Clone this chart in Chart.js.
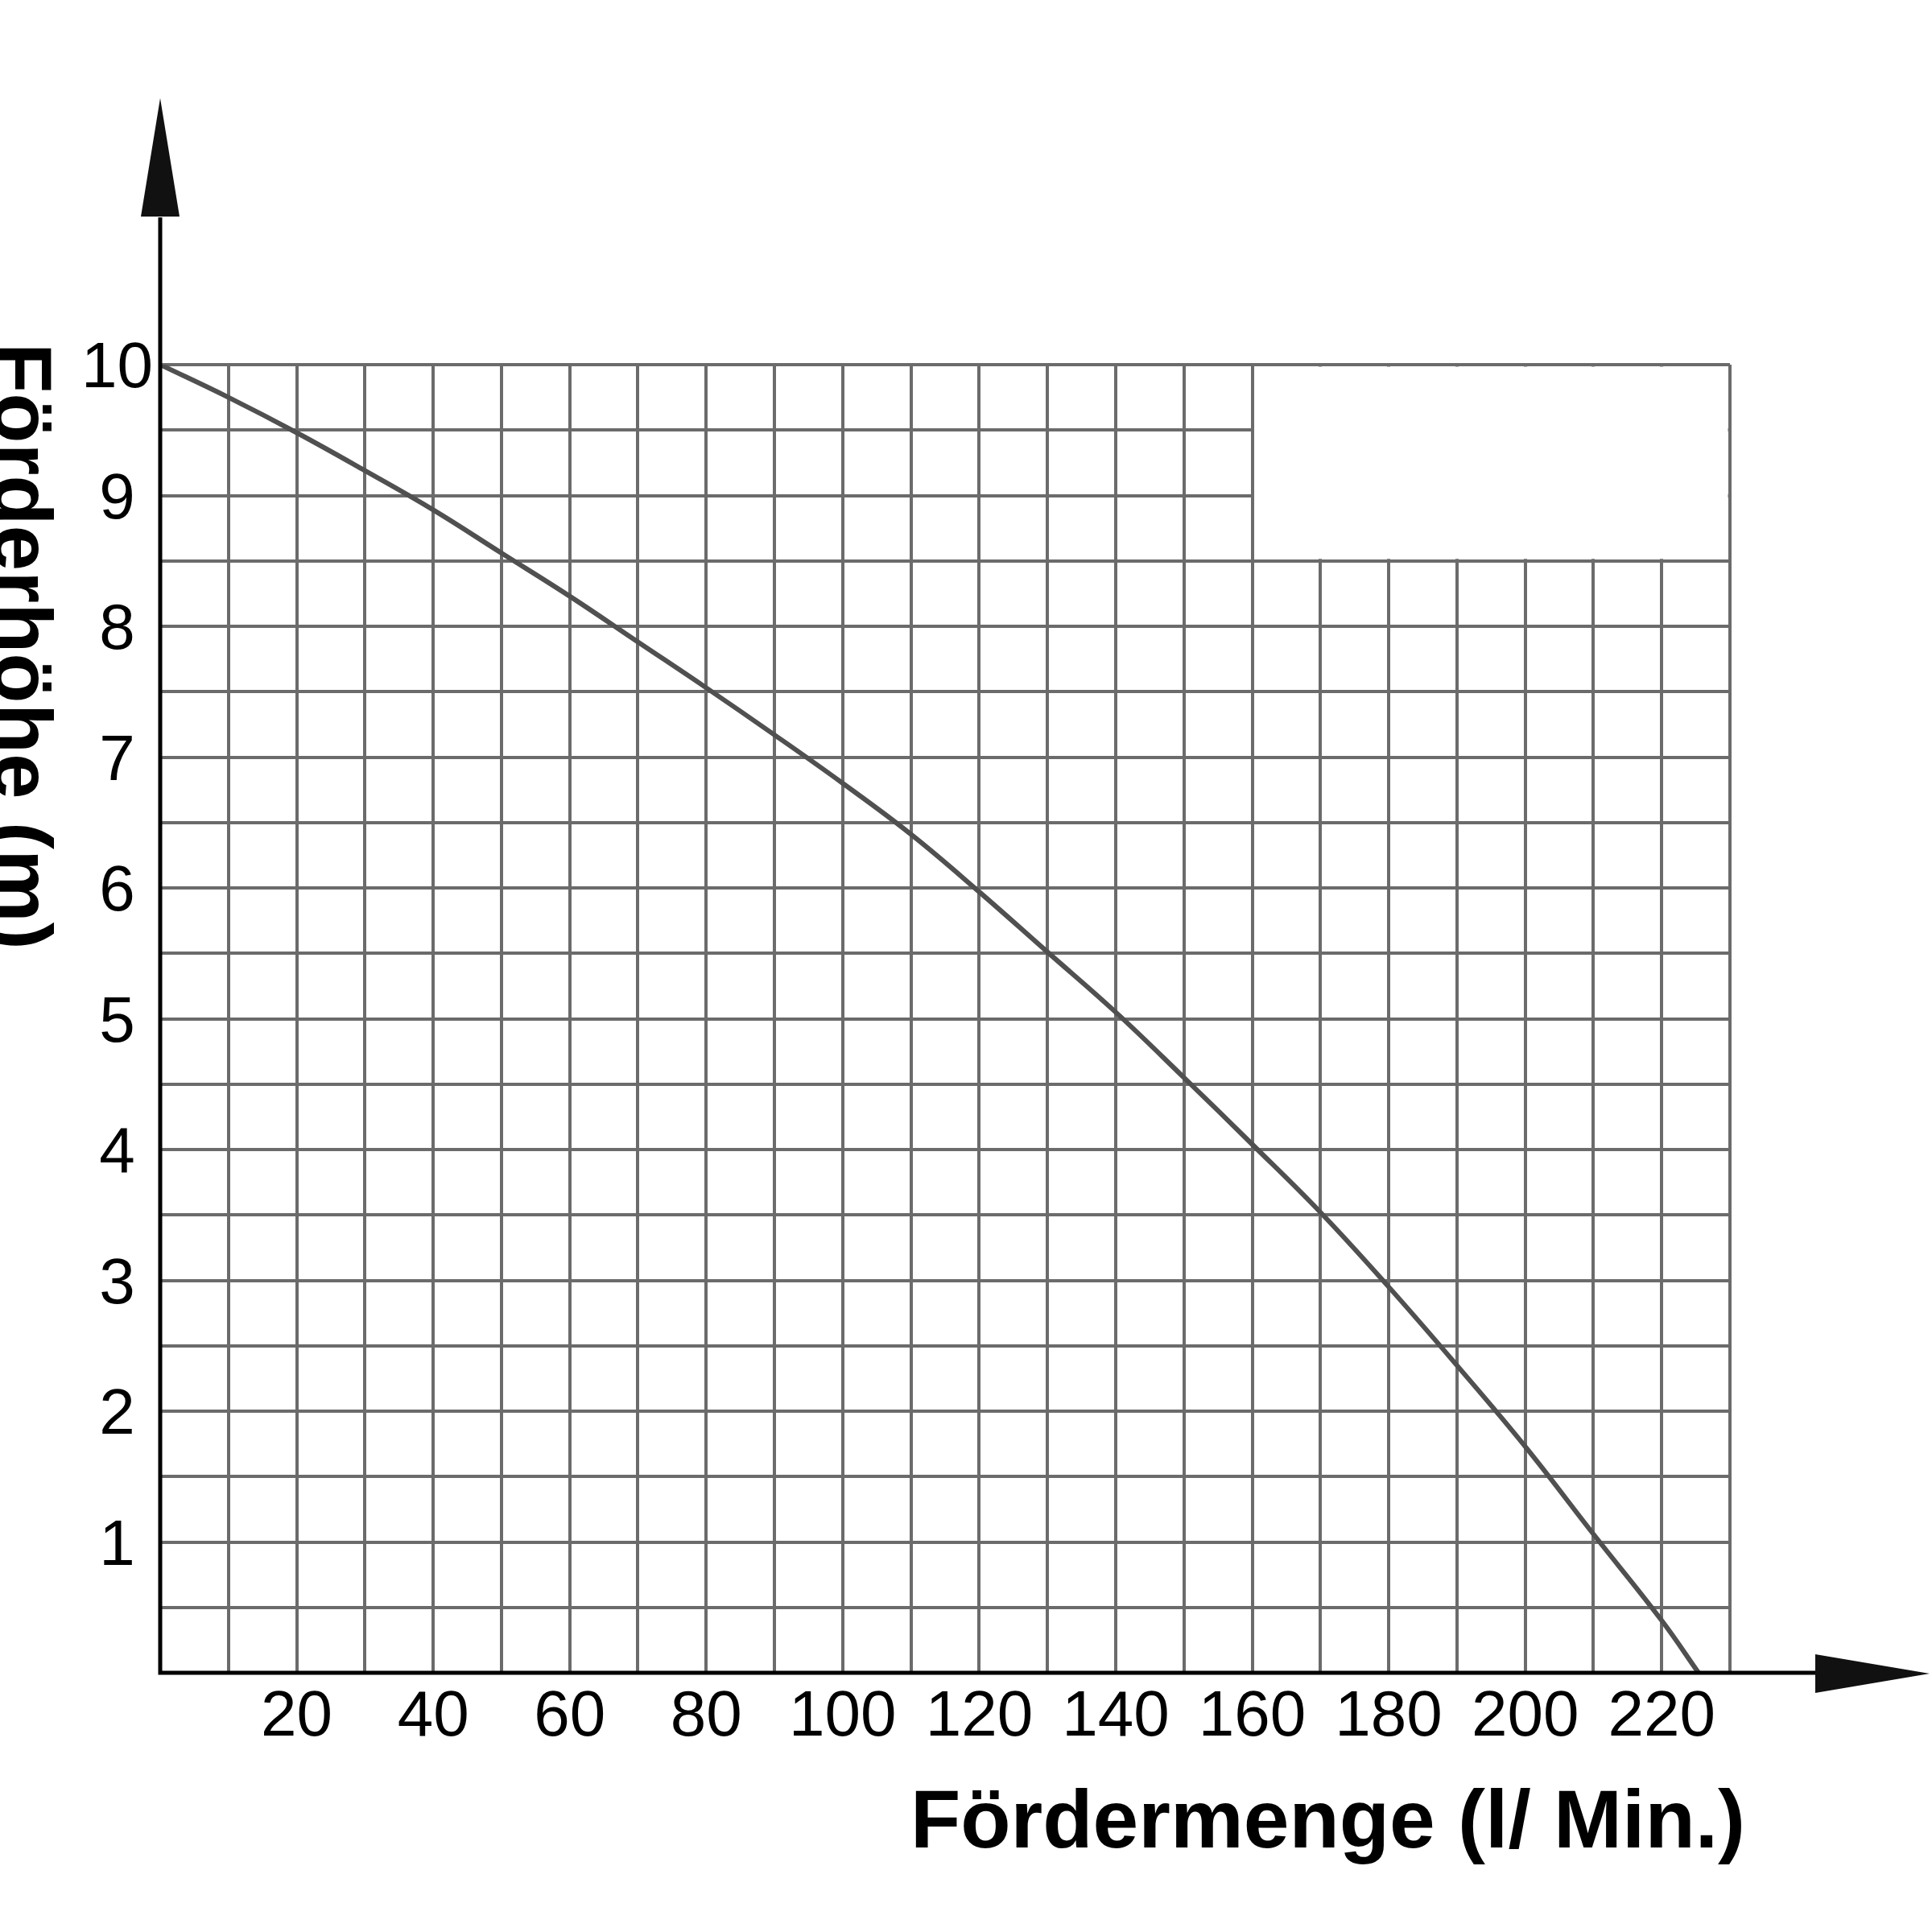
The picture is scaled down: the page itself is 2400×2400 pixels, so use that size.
<!DOCTYPE html>
<html>
<head>
<meta charset="utf-8">
<script src="https://cdn.jsdelivr.net/npm/chart.js@4"></script>
<style>
  html, body { margin: 0; padding: 0; background: #fff; }
  canvas { display: block; }
</style>
</head>
<body>
<canvas id="myChart" width="2400" height="2400"></canvas>
<script>
// flow rate (l/min) and delivery head (m)
var flowX = [0, 10, 20, 30, 40, 50, 60, 70, 80, 90, 100, 110, 120, 130, 140, 150, 160, 170, 180, 190, 200, 210, 220, 225.4];
var headY = [10, 9.75, 9.48, 9.19, 8.89, 8.56, 8.23, 7.88, 7.53, 7.17, 6.80, 6.41, 5.97, 5.51, 5.05, 4.55, 4.04, 3.52, 2.95, 2.35, 1.73, 1.06, 0.40, 0];

var xTickLabels = [20, 40, 60, 80, 100, 120, 140, 160, 180, 200, 220];
var yTickLabels = [1, 2, 3, 4, 5, 6, 7, 8, 9, 10];

var xTitle = 'Fördermenge (l/ Min.)';
var yTitle = 'Förderhöhe (m)';

var fontFamily = "'Liberation Sans', Arial, sans-serif";
var gridColor = '#6b6b6b';
var gridWidth = 4;

var points = flowX.map(function(x, i) {
  return { x: x, y: headY[i] };
});

// blank out the grid in the upper right corner (160..230, 8.5..10)
var cornerMask = {
  id: 'cornerMask',
  beforeDatasetsDraw: function(chart) {
    var ctx = chart.ctx;
    var xs = chart.scales.x, ys = chart.scales.y;
    var half = gridWidth / 2 + 0.5;
    var left = xs.getPixelForValue(160) + half;
    var right = xs.getPixelForValue(230) - half;
    var top = ys.getPixelForValue(10) + half;
    var bottom = ys.getPixelForValue(8.5) - half;
    ctx.save();
    ctx.fillStyle = '#fff';
    ctx.fillRect(left, top, right - left, bottom - top);
    ctx.restore();
  }
};

// axis lines with arrow heads and the two axis titles
var axesDeco = {
  id: 'axesDeco',
  afterDraw: function(chart) {
    var ctx = chart.ctx;
    var xs = chart.scales.x, ys = chart.scales.y;
    var x0 = xs.getPixelForValue(0);
    var y0 = ys.getPixelForValue(0);
    ctx.save();
    ctx.strokeStyle = '#000';
    ctx.lineWidth = 5;
    ctx.beginPath();
    ctx.moveTo(x0, y0 + 2.5);
    ctx.lineTo(x0, 270);
    ctx.moveTo(x0 - 2.5, y0);
    ctx.lineTo(2256, y0);
    ctx.stroke();

    ctx.fillStyle = '#111';
    ctx.beginPath();
    ctx.moveTo(x0, 122);
    ctx.lineTo(x0 + 24, 269);
    ctx.lineTo(x0 - 24, 269);
    ctx.closePath();
    ctx.fill();
    ctx.beginPath();
    ctx.moveTo(2397, y0 + 1);
    ctx.lineTo(2255, y0 - 23);
    ctx.lineTo(2255, y0 + 25);
    ctx.closePath();
    ctx.fill();

    ctx.fillStyle = '#000';
    ctx.font = 'bold 102px ' + fontFamily;
    ctx.textAlign = 'right';
    ctx.textBaseline = 'alphabetic';
    ctx.fillText(xTitle, 2168, 2295);

    ctx.translate(-7, 426);
    ctx.rotate(Math.PI / 2);
    ctx.textAlign = 'left';
    ctx.fillText(yTitle, 0, 0);
    ctx.restore();
  }
};

var chart = new Chart('myChart', {
  type: 'line',
  data: {
    datasets: [
      {
        data: points,
        borderColor: '#505050',
        borderWidth: 6,
        pointRadius: 0,
        fill: false,
        tension: 0.4
      }
    ]
  },
  options: {
    responsive: false,
    animation: false,
    devicePixelRatio: 1,
    layout: {
      padding: { left: 0, top: 453, right: 251, bottom: 0 }
    },
    plugins: {
      legend: { display: false },
      tooltip: { enabled: false }
    },
    scales: {
      x: {
        type: 'linear',
        min: 0,
        max: 230,
        afterFit: function(scale) { scale.height = 322; },
        grid: { color: gridColor, lineWidth: gridWidth, drawTicks: false },
        border: { display: false },
        ticks: {
          stepSize: 10,
          autoSkip: false,
          maxRotation: 0,
          padding: 8,
          color: '#000',
          font: { family: fontFamily, size: 80 },
          callback: function(value) {
            return xTickLabels.indexOf(value) >= 0 ? String(value) : '';
          }
        }
      },
      y: {
        type: 'linear',
        min: 0,
        max: 10,
        afterFit: function(scale) { scale.width = 199; },
        grid: { color: gridColor, lineWidth: gridWidth, drawTicks: false },
        border: { display: false },
        ticks: {
          stepSize: 0.5,
          autoSkip: false,
          crossAlign: 'center',
          padding: 9,
          labelOffset: 6,
          color: '#000',
          font: { family: fontFamily, size: 80 },
          callback: function(value) {
            return yTickLabels.indexOf(value) >= 0 ? String(value) : '';
          }
        }
      }
    }
  },
  plugins: [cornerMask, axesDeco]
});
</script>
</body>
</html>
